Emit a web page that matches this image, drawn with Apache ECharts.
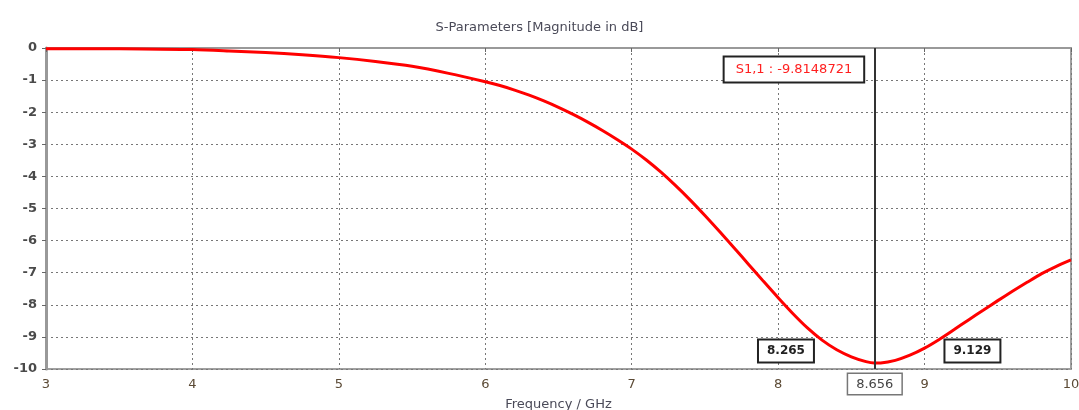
<!DOCTYPE html>
<html>
<head>
<meta charset="utf-8">
<script src="https://cdn.jsdelivr.net/npm/echarts@6/dist/echarts.min.js"></script>
<style>html,body{margin:0;padding:0;background:#fff}#c{width:1079px;height:410px}</style>
</head>
<body>
<div id="c"></div>
<script>
const freqGHz = [3.0,3.5,4.0,4.25,4.5,4.75,5.0,5.25,5.5,5.75,6.0,6.1,6.2,6.3,6.4,6.5,6.6,6.7,6.8,6.9,7.0,7.1,7.2,7.3,7.4,7.5,7.6,7.7,7.8,7.9,8.0,8.1,8.2,8.3,8.4,8.5,8.6,8.656,8.7,8.8,8.9,9.0,9.1,9.2,9.3,9.4,9.5,9.6,9.7,9.8,9.9,10.0];
const s11dB = [-0.02,-0.02,-0.05,-0.09,-0.14,-0.21,-0.30,-0.42,-0.57,-0.79,-1.05,-1.17,-1.31,-1.47,-1.65,-1.85,-2.07,-2.31,-2.57,-2.85,-3.15,-3.49,-3.87,-4.29,-4.74,-5.22,-5.72,-6.23,-6.75,-7.27,-7.78,-8.27,-8.72,-9.10,-9.40,-9.62,-9.77,-9.815,-9.81,-9.73,-9.57,-9.35,-9.08,-8.78,-8.47,-8.17,-7.87,-7.58,-7.30,-7.03,-6.80,-6.60];
const xTicks = [3,4,5,6,7,8,9,10];
const yTicks = [0,-1,-2,-3,-4,-5,-6,-7,-8,-9,-10];
const markerFreq = 8.656;
const markerText = 'S1,1 : -9.8148721';
const bandEdges = [8.265, 9.129];
const bandLevel = -9;

const chart = echarts.init(document.getElementById('c'));
const fontFam = 'DejaVu Sans, Verdana, sans-serif';
const boxLabel = {
  show: true, color: '#222', fontFamily: fontFam, fontSize: 12, fontWeight: 'bold',
  backgroundColor: '#fff', borderColor: '#222', borderWidth: 2, padding: [5, 8, 4, 8]
};
option = {
  animation: false,
  title: {
    text: 'S-Parameters [Magnitude in dB]', left: 'center', top: 16,
    textStyle: { fontFamily: fontFam, fontSize: 13, fontWeight: 'normal', color: '#4a4a58' }
  },
  grid: { left: 46, right: 8, top: 48, bottom: 41, containLabel: false, outerBoundsMode: 'none',
    show: true, borderColor: '#a0a0a0', borderWidth: 2, backgroundColor: '#fff' },
  xAxis: {
    type: 'value', min: 3, max: 10, interval: 1,
    name: 'Frequency / GHz', nameLocation: 'middle', nameGap: 29,
    nameTextStyle: { fontFamily: fontFam, fontSize: 13, color: '#4a4a58' },
    axisLine: { show: true, lineStyle: { color: '#999', width: 2 } },
    axisTick: { show: true, inside: false, length: 4, lineStyle: { color: '#666', width: 1 } },
    axisLabel: { fontFamily: fontFam, fontSize: 13, color: '#5b4a35', margin: 9,
      formatter: v => xTicks.includes(v) ? String(v) : '' },
    splitLine: { show: true, lineStyle: { type: [2, 3], color: '#777', width: 1 } }
  },
  yAxis: {
    type: 'value', min: -10, max: 0, interval: 1,
    axisLine: { show: true, lineStyle: { color: '#999', width: 3 } },
    axisTick: { show: true, length: 4, lineStyle: { color: '#666', width: 1 } },
    axisLabel: { fontFamily: fontFam, fontSize: 13, fontWeight: 'bold', color: '#4a4a4a', margin: 9,
      formatter: v => yTicks.includes(v) ? String(v) : '' },
    splitLine: { show: true, lineStyle: { type: [2, 3], color: '#777', width: 1 } }
  },
  series: [{
    type: 'line', smooth: 0.3, showSymbol: false, symbol: 'none',
    data: freqGHz.map((f, i) => [f, s11dB[i]]),
    lineStyle: { color: '#ff0000', width: 3 },
    z: 3,
    markLine: {
      silent: true, symbol: ['none', 'none'],
      lineStyle: { color: '#333', width: 2, type: 'solid' },
      label: Object.assign({}, boxLabel, {
        position: 'start', formatter: String(markerFreq), distance: 5,
        fontWeight: 'normal', fontSize: 13, color: '#444', borderColor: '#777', borderWidth: 1.5,
        padding: [4, 8, 3, 8]
      }),
      data: [{ xAxis: markerFreq }]
    },
    markPoint: {
      symbol: 'circle', symbolSize: 0, silent: true,
      data: [
        { coord: [markerFreq, -0.67], label: Object.assign({}, boxLabel, {
            position: 'left', distance: 11, formatter: markerText, color: '#ff2020',
            fontWeight: 'normal', fontSize: 13, padding: [6, 11, 5, 11] }) },
        { coord: [bandEdges[0], bandLevel], label: Object.assign({}, boxLabel, {
            position: 'left', distance: 4, offset: [0, 14], formatter: String(bandEdges[0]) }) },
        { coord: [bandEdges[1], bandLevel], label: Object.assign({}, boxLabel, {
            position: 'right', distance: 2, offset: [0, 14], formatter: String(bandEdges[1]) }) }
      ]
    }
  }]
};
chart.setOption(option);
</script>
</body>
</html>
